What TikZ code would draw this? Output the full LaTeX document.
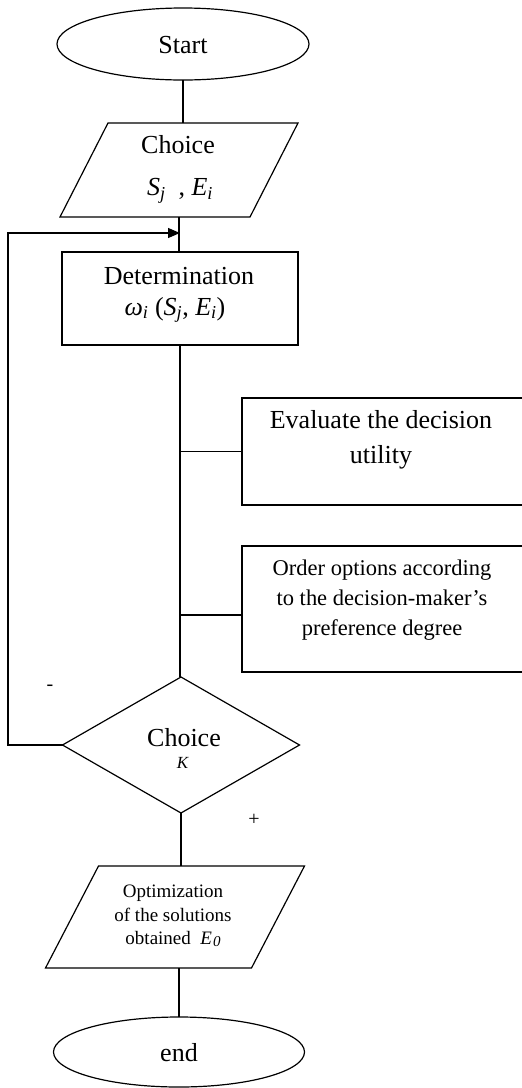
\documentclass[tikz,border=0pt]{standalone}
\usepackage{fontspec}
\setmainfont{Liberation Serif}
\usetikzlibrary{shapes.geometric,arrows.meta}
\begin{document}
\begin{tikzpicture}[x=1pt,y=-1pt, line width=1.2pt,
  every node/.style={font=\fontsize{26}{35}\selectfont, inner sep=0pt, outer sep=0pt},
  term/.style={draw, ellipse, minimum width=252pt, minimum height=72pt},
  iobody/.style={rectangle, minimum width=190pt, minimum height=94pt},
  proc/.style={draw, rectangle},
  decision/.style={draw, diamond, minimum width=237pt, minimum height=136pt},
  lbl/.style={align=center},
  loopconn/.style={draw, -{Triangle[length=12pt,width=10pt]}},
  sign/.style={font=\fontsize{20}{20}\selectfont}
]
\clip (0,0) rectangle (522,1088);
\useasboundingbox (0,0) rectangle (522,1088);

% shapes
\node[term] (start) at (183,44) {};
\node (startt) at (183,45) {Start};

\node[iobody] (ch) at (179,170) {};
\draw ([xshift=24pt]ch.north west) -- ([xshift=24pt]ch.north east)
   -- ([xshift=-24pt]ch.south east) -- ([xshift=-24pt]ch.south west) -- cycle;
\node (cht1) at (178,145) {Choice};
\node (cht2) at (180,191) {\textit{S}\textsubscript{\textit{j}}\ \ , \textit{E}\textsubscript{\textit{i}}};

\node[proc, minimum width=236pt, minimum height=93pt] (det) at (180,298.5) {};
\node (dett1) at (179,276) {Determination};
\node (dett2) at (175,310) {\textit{ω}\textsubscript{\textit{i}} (\textit{S}\textsubscript{\textit{j}}, \textit{E}\textsubscript{\textit{i}})};

\node[proc, minimum width=290pt, minimum height=107pt] (ev) at (387,451.5) {};
\node[lbl] (evt) at (381,440) {Evaluate the decision\\utility};

\node[proc, minimum width=290pt, minimum height=126pt] (ord) at (387,609) {};
\node[lbl, font=\fontsize{22.5}{30}\selectfont] (ordt) at (382,600) {Order options according\\to the decision-maker’s\\preference degree};

\node[decision] (dia) at (181,745) {};
\node (diat1) at (184,738) {Choice};
\node[font=\fontsize{17}{17}\selectfont] (diat2) at (183,763) {\textit{K}};

\node[iobody, minimum width=206pt, minimum height=102pt] (opt) at (175,917) {};
\draw ([xshift=26.5pt]opt.north west) -- ([xshift=26.5pt]opt.north east)
   -- ([xshift=-26.5pt]opt.south east) -- ([xshift=-26.5pt]opt.south west) -- cycle;
\node[lbl, font=\fontsize{19}{23.5}\selectfont] (optt) at (173,916) {Optimization\\of the solutions\\obtained \ \textit{E\kern1pt\raisebox{-2pt}{\fontsize{15}{15}\selectfont 0}}};

\node[term, minimum width=251pt, minimum height=70pt] (end) at (179,1052) {};
\node (endt) at (179,1053) {end};

\node[sign] (minus) at (50,688) {-};
\node[sign] (plus) at (254,820) {+};

% connectors
\coordinate (tip) at (180,233);
\coordinate (lc) at (8,0);
\draw (start.south) -- (start.south |- ch.north);
\draw (ch.south) -- (ch.south |- det.north);
\draw (det.south) -- (det.south |- dia.north);
\draw (ev.west) -- (ev.west -| det.south);
\draw ([yshift=-6pt]ord.west) -- ([yshift=-6pt]ord.west -| det.south);
\draw (dia.south) -- (dia.south |- opt.north);
\draw (end.north |- opt.south) -- (end.north);
\draw[loopconn] (dia.west) -- (dia.west -| lc) |- (tip);
\end{tikzpicture}
\end{document}
